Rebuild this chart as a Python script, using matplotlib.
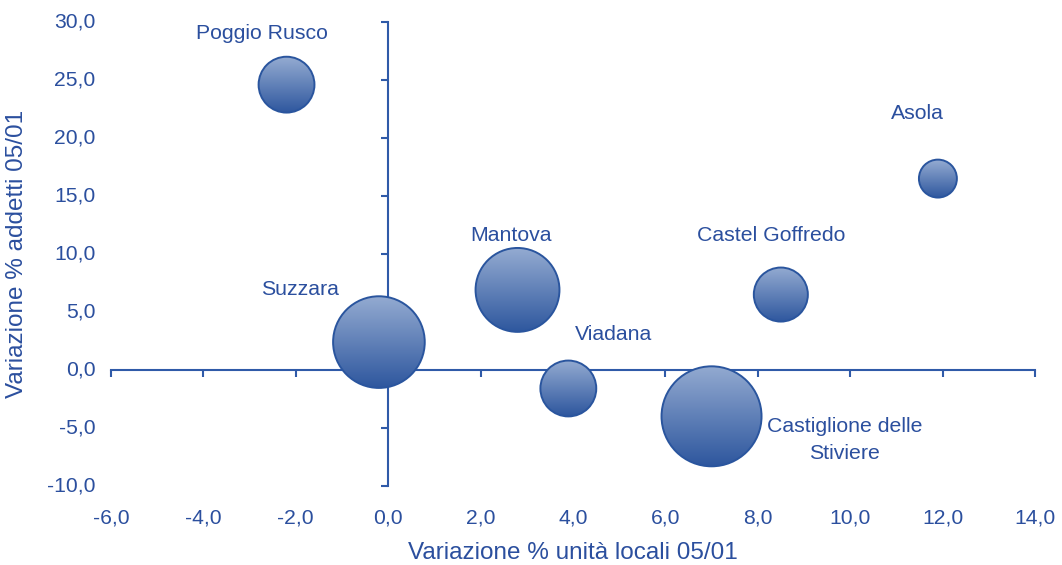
import numpy as np
import matplotlib
matplotlib.use('Agg')
import matplotlib.pyplot as plt
import matplotlib.transforms as mtransforms
from matplotlib.patches import Ellipse

# Data: % change of local units (x) and employees (y), 2005 vs 2001
comuni = ['Poggio Rusco', 'Asola', 'Mantova', 'Castel Goffredo', 'Suzzara',
          'Viadana', 'Castiglione delle\nStiviere']
var_unita = [-2.2, 11.9, 2.8, 8.5, -0.2, 3.9, 7.0]
var_addetti = [24.6, 16.5, 6.9, 6.5, 2.4, -1.6, -4.0]
dimensione = [780, 360, 1760, 730, 2100, 780, 2500]

x_ticks = [-6, -4, -2, 0, 2, 4, 6, 8, 10, 12, 14]
y_ticks = [-10, -5, 0, 5, 10, 15, 20, 25, 30]

# label offsets in pixels from the bubble centre
label_offsets = [(-25, 51), (-21, 65), (-7, 54), (-10, 59), (-79, 53), (45, 54), (133, -24)]

blu = '#2b4f9e'
linea = '#2f5aa8'
plt.rcParams['font.family'] = ['Liberation Sans', 'DejaVu Sans']

fig = plt.figure(figsize=(10.62, 5.65), dpi=100)
ax = fig.add_axes([0.1045, 0.140, 0.870, 0.821])
ax.set_xlim(-6, 14)
ax.set_ylim(-10, 30)

for s in ['top', 'right']:
    ax.spines[s].set_visible(False)
ax.spines['left'].set_position(('data', 0))
ax.spines['bottom'].set_position(('data', 0))
for s in ['left', 'bottom']:
    ax.spines[s].set_color(linea)
    ax.spines[s].set_linewidth(1.5)
ax.set_xticks(x_ticks)
ax.set_yticks(y_ticks)
ax.tick_params(direction='out', length=5, width=1.5, color=linea,
               labelbottom=False, labelleft=False)

# tick labels at the edges of the plot
fmt = lambda v: ('%.1f' % v).replace('.', ',')
tx = mtransforms.blended_transform_factory(ax.transData, ax.transAxes)
ty = mtransforms.blended_transform_factory(ax.transAxes, ax.transData)
for v in x_ticks:
    ax.text(v, -0.07, fmt(v), transform=tx, ha='center', va='center',
            fontsize=15.2, color=blu, clip_on=False)
for v in y_ticks:
    ax.text(-0.017, v, fmt(v), transform=ty, ha='right', va='center',
            fontsize=15.2, color=blu, clip_on=False)

fig.text(0.539, 0.021, 'Variazione % unità locali 05/01', ha='center', va='center',
         fontsize=17.5, color=blu)
fig.text(0.016, 0.55, 'Variazione % addetti 05/01', ha='center', va='center',
         rotation=90, fontsize=17.5, color=blu)

# bubbles with vertical gradient
fig.canvas.draw()
p0 = ax.transData.transform((0, 0))
p1 = ax.transData.transform((1, 1))
px_x = p1[0] - p0[0]
px_y = p1[1] - p0[1]

top = np.array([0.58, 0.67, 0.82])
bot = np.array([0.18, 0.34, 0.62])
t = np.linspace(0, 1, 256)[:, None, None]
grad = top * (1 - t) + bot * t

for i in range(len(comuni)):
    r = np.sqrt(dimensione[i])
    rx = r / px_x
    ry = r / px_y
    x = var_unita[i]
    y = var_addetti[i]
    ell = Ellipse((x, y), 2 * rx, 2 * ry, facecolor='none', edgecolor='#2a559e',
                  linewidth=1.4, zorder=4)
    im = ax.imshow(grad, extent=[x - rx, x + rx, y - ry, y + ry], origin='upper',
                   aspect='auto', zorder=3, interpolation='bilinear')
    clip = Ellipse((x, y), 2 * rx, 2 * ry, transform=ax.transData)
    im.set_clip_path(clip)
    ax.add_patch(ell)
    ax.annotate(comuni[i], (x, y), xytext=label_offsets[i], textcoords='offset pixels',
                ha='center', va='center', fontsize=15.3, color=blu, zorder=5,
                multialignment='center', linespacing=1.55)

ax.set_xlim(-6, 14)
ax.set_ylim(-10, 30)
ax.set_aspect('auto')

fig.savefig('out.png', dpi=100)
